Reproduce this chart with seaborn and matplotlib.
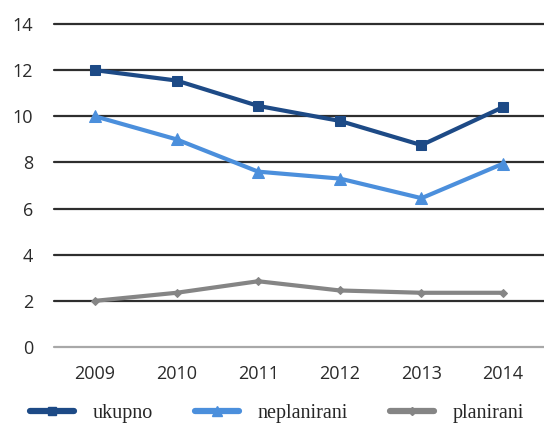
import matplotlib
matplotlib.use("Agg")
import matplotlib.pyplot as plt
import seaborn as sns
import pandas as pd
from matplotlib.lines import Line2D

# Yearly values per series
years = ["2009", "2010", "2011", "2012", "2013", "2014"]
series_names = ["ukupno", "neplanirani", "planirani"]
ukupno = [12.0, 11.55, 10.45, 9.8, 8.75, 10.4]
neplanirani = [10.0, 9.0, 7.6, 7.3, 6.45, 7.95]
planirani = [2.0, 2.35, 2.85, 2.45, 2.35, 2.35]
y_ticks = [0, 2, 4, 6, 8, 10, 12, 14]

df = pd.DataFrame({
    "godina": years * 3,
    "vrijednost": ukupno + neplanirani + planirani,
    "serija": [n for n in series_names for _ in years],
})

colors = {"ukupno": "#1d4a86", "neplanirani": "#4b8fdc", "planirani": "#858585"}
markers = {"ukupno": "s", "neplanirani": "^", "planirani": "D"}
msizes = {"ukupno": 7, "neplanirani": 8.5, "planirani": 4.5}

sns.set_style("white")
fig = plt.figure(figsize=(5.44, 4.26), dpi=100)
ax = fig.add_axes([54 / 544, 79 / 426, 490 / 544, 323 / 426])

for name in series_names:
    sub = df[df["serija"] == name]
    sns.lineplot(data=sub, x="godina", y="vrijednost", ax=ax, color=colors[name],
                 marker=markers[name], markersize=msizes[name], linewidth=3.0,
                 markeredgecolor=colors[name], sort=False, legend=False, zorder=3)

ax.set_xlim(-0.5, len(years) - 0.5)
ax.set_ylim(0, 14)
ax.set_yticks(y_ticks)
ax.set_xlabel("")
ax.set_ylabel("")
for s in ax.spines.values():
    s.set_visible(False)

# horizontal gridlines, the zero line lighter
for t in y_ticks:
    if t == 0:
        ax.axhline(t, color="#a8a8a8", lw=1.6, zorder=1, clip_on=False)
    else:
        ax.axhline(t, color="#2e2e2e", lw=1.6, zorder=1, clip_on=False)

ax.tick_params(axis="both", length=0, colors="#2a2a2a")
ax.tick_params(axis="y", pad=15)
ax.tick_params(axis="x", pad=13)
for lab in ax.get_xticklabels() + ax.get_yticklabels():
    lab.set_fontfamily("Open Sans")
    lab.set_fontsize(13)

handles = [Line2D([0], [0], color=colors[n], lw=4.5, marker=markers[n],
                  markersize=msizes[n] * 0.9, markeredgecolor=colors[n])
           for n in series_names]
fig.legend(handles, series_names, loc="center left", bbox_to_anchor=(30 / 544, 1 - 413 / 426),
           ncol=3, frameon=False, prop=dict(family="Liberation Serif", size=14.5),
           handlelength=2.2, handletextpad=0.9, columnspacing=2.1, borderpad=0,
           borderaxespad=0)

fig.savefig("out.png", dpi=100)
